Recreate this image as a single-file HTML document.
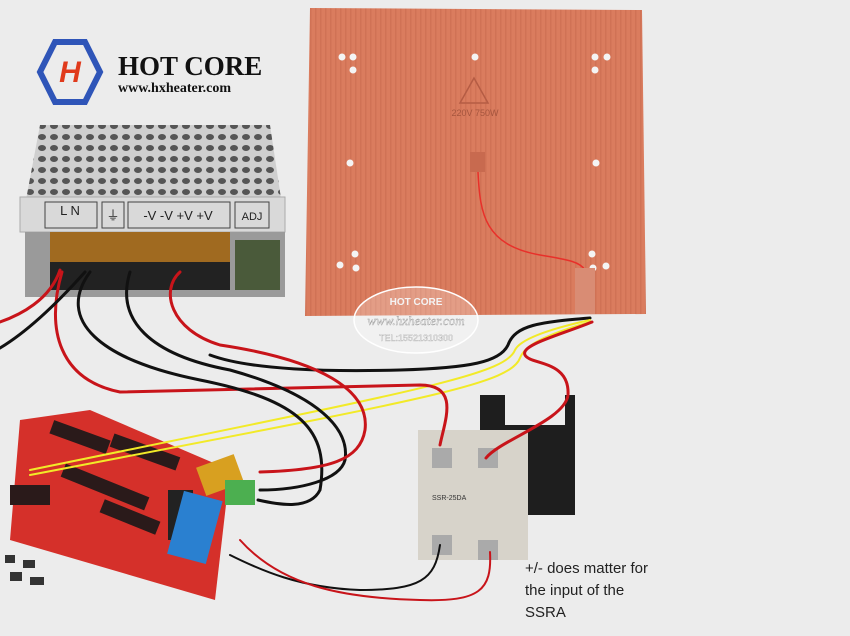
<!DOCTYPE html>
<html><head><meta charset="utf-8"><style>
html,body{margin:0;padding:0;background:#ececec;}
svg{display:block}
</style></head><body>
<svg width="850" height="636" viewBox="0 0 850 636" xmlns="http://www.w3.org/2000/svg">
<defs>
<pattern id="stripes" width="5" height="10" patternUnits="userSpaceOnUse">
<rect width="5" height="10" fill="#da7c5e"/><rect width="1.5" height="10" fill="#c96a4f" opacity="0.6"/>
</pattern>
<pattern id="holes" width="12" height="11" patternUnits="userSpaceOnUse">
<rect width="12" height="11" fill="#cfcfcf"/><ellipse cx="6" cy="5" rx="4" ry="3" fill="#555"/>
</pattern>
</defs>
<rect width="850" height="636" fill="#ececec"/>
<!-- logo -->
<polygon points="55,42 85,42 100,72 85,102 55,102 40,72" fill="none" stroke="#2f55b8" stroke-width="6"/>
<text x="70" y="82" font-family="Liberation Sans,sans-serif" font-weight="bold" font-style="italic" font-size="30" fill="#e03a1c" text-anchor="middle">H</text>
<text x="118" y="75" font-family="Liberation Serif,serif" font-weight="bold" font-size="27" fill="#111">HOT CORE</text>
<text x="118" y="92" font-family="Liberation Serif,serif" font-weight="bold" font-size="14" fill="#111">www.hxheater.com</text>
<!-- heater -->
<polygon points="310,8 642,10 646,314 305,316" fill="url(#stripes)"/>
<g fill="#f4f4f4">
<circle cx="342" cy="57" r="3.5"/><circle cx="353" cy="57" r="3.5"/><circle cx="353" cy="70" r="3.5"/>
<circle cx="595" cy="57" r="3.5"/><circle cx="607" cy="57" r="3.5"/><circle cx="595" cy="70" r="3.5"/>
<circle cx="350" cy="163" r="3.5"/><circle cx="596" cy="163" r="3.5"/>
<circle cx="340" cy="265" r="3.5"/><circle cx="356" cy="268" r="3.5"/><circle cx="355" cy="254" r="3.5"/>
<circle cx="592" cy="254" r="3.5"/><circle cx="593" cy="268" r="3.5"/><circle cx="606" cy="266" r="3.5"/>
<circle cx="475" cy="57" r="3.5"/><circle cx="475" cy="162" r="3.5"/>
</g>
<polygon points="474,78 460,103 488,103" fill="none" stroke="#b55c44" stroke-width="1.5"/>
<text x="475" y="116" font-family="Liberation Sans,sans-serif" font-size="9" fill="#a5553e" text-anchor="middle">220V 750W</text>
<rect x="470" y="152" width="15" height="20" fill="#c86a4f"/>
<path d="M478,172 C480,215 485,245 540,255 C570,260 580,262 585,270" fill="none" stroke="#e8302a" stroke-width="1.5"/>
<rect x="575" y="268" width="20" height="46" fill="#d98c74"/>
<ellipse cx="416" cy="320" rx="62" ry="33" fill="#fff" fill-opacity="0.25" stroke="#fff" stroke-width="1.5"/>
<text x="416" y="305" font-family="Liberation Sans,sans-serif" font-size="10" font-weight="bold" fill="#f4f4f4" text-anchor="middle">HOT CORE</text>
<text x="416" y="325" font-family="Liberation Serif,serif" font-size="13" font-style="italic" fill="#fff" stroke="#999" stroke-width="0.4" text-anchor="middle">www.hxheater.com</text>
<text x="416" y="341" font-family="Liberation Sans,sans-serif" font-size="9" fill="#fff" stroke="#999" stroke-width="0.3" text-anchor="middle">TEL:15521310300</text>
<!-- PSU -->
<polygon points="40,125 270,125 282,205 25,205" fill="url(#holes)"/>
<rect x="20" y="197" width="265" height="35" fill="#d9d9d9" stroke="#aaa"/>
<g font-family="Liberation Sans,sans-serif" font-size="13" fill="#222" text-anchor="middle">
<rect x="45" y="202" width="52" height="26" fill="none" stroke="#444"/><text x="70" y="215">L  N</text>
<rect x="102" y="202" width="22" height="26" fill="none" stroke="#444"/><text x="113" y="220">⏚</text>
<rect x="128" y="202" width="102" height="26" fill="none" stroke="#444"/><text x="178" y="220">-V -V +V +V</text>
<rect x="235" y="202" width="34" height="26" fill="none" stroke="#444"/><text x="252" y="220" font-size="11">ADJ</text>
</g>
<rect x="25" y="232" width="260" height="65" fill="#9a9a9a"/>
<rect x="50" y="232" width="180" height="30" fill="#a06a20"/>
<rect x="50" y="262" width="180" height="28" fill="#222"/>
<rect x="235" y="240" width="45" height="50" fill="#4a5a3a"/>
<!-- board -->
<polygon points="20,420 90,410 230,470 215,600 10,540" fill="#d5302a"/>
<g fill="#2a1a1a">
<rect x="50" y="430" width="60" height="14" transform="rotate(20 80 437)"/>
<rect x="110" y="445" width="70" height="14" transform="rotate(20 145 452)"/>
<rect x="60" y="480" width="90" height="14" transform="rotate(22 105 487)"/>
<rect x="100" y="510" width="60" height="14" transform="rotate(22 130 517)"/>
<rect x="10" y="485" width="40" height="20"/>
</g>
<rect x="168" y="490" width="25" height="50" fill="#222"/>
<rect x="175" y="495" width="40" height="65" fill="#2a80d0" transform="rotate(15 195 527)"/>
<rect x="200" y="460" width="40" height="30" fill="#d8a020" transform="rotate(-20 220 475)"/>
<rect x="225" y="480" width="30" height="25" fill="#4caf50"/>
<g fill="#333"><rect x="5" y="555" width="10" height="8"/><rect x="23" y="560" width="12" height="8"/><rect x="10" y="572" width="12" height="9"/><rect x="30" y="577" width="14" height="8"/></g>
<!-- SSR -->
<rect x="480" y="395" width="95" height="120" fill="#1e1e1e"/>
<rect x="505" y="395" width="60" height="30" fill="#ececec"/>
<rect x="418" y="430" width="110" height="130" fill="#d7d3ca"/>
<rect x="432" y="448" width="20" height="20" fill="#aaa"/><rect x="478" y="448" width="20" height="20" fill="#aaa"/>
<rect x="432" y="535" width="20" height="20" fill="#aaa"/><rect x="478" y="540" width="20" height="20" fill="#aaa"/>
<text x="432" y="500" font-family="Liberation Sans,sans-serif" font-size="7" fill="#333">SSR-25DA</text>
<!-- wires -->
<g fill="none" stroke-width="3" stroke-linecap="round">
<path d="M590,318 C540,322 515,325 508,345 C500,362 470,368 400,370 C330,372 250,370 210,355" stroke="#111"/>
<path d="M590,320 C545,330 520,340 515,350 C505,375 420,390 30,470" stroke="#f2ea28" stroke-width="2"/>
<path d="M590,322 C545,335 525,345 520,358 C510,385 420,400 30,475" stroke="#f2ea28" stroke-width="2"/>
<path d="M592,322 C560,335 520,345 525,355 C530,365 570,360 568,395 C565,420 500,440 486,458" stroke="#c8141a"/>
<path d="M60,270 C50,300 20,315 0,322" stroke="#c8141a"/>
<path d="M62,272 C45,330 60,380 120,392 L420,385 C460,385 445,420 440,445" stroke="#c8141a"/>
<path d="M85,272 C60,300 30,330 0,348" stroke="#111"/>
<path d="M90,272 C55,320 100,360 200,380 C300,400 330,430 320,490 C310,510 280,505 258,500" stroke="#111"/>
<path d="M130,272 C115,320 150,355 230,370 C320,395 350,430 345,460 C340,480 300,490 260,490" stroke="#111"/>
<path d="M180,272 C160,290 170,330 220,345 C320,360 370,390 365,430 C360,460 330,470 260,472" stroke="#c8141a"/>
<path d="M440,545 C435,580 420,590 360,590 C300,588 260,570 230,555" stroke="#111" stroke-width="2"/>
<path d="M490,552 C492,590 480,602 420,600 C340,598 280,585 240,540" stroke="#c8141a" stroke-width="2"/>
</g>
<g font-family="Liberation Sans,sans-serif" font-size="15" fill="#222">
<text x="525" y="573">+/- does matter for</text>
<text x="525" y="595">the input of the</text>
<text x="525" y="617">SSRA</text>
</g>
</svg>
</body></html>
